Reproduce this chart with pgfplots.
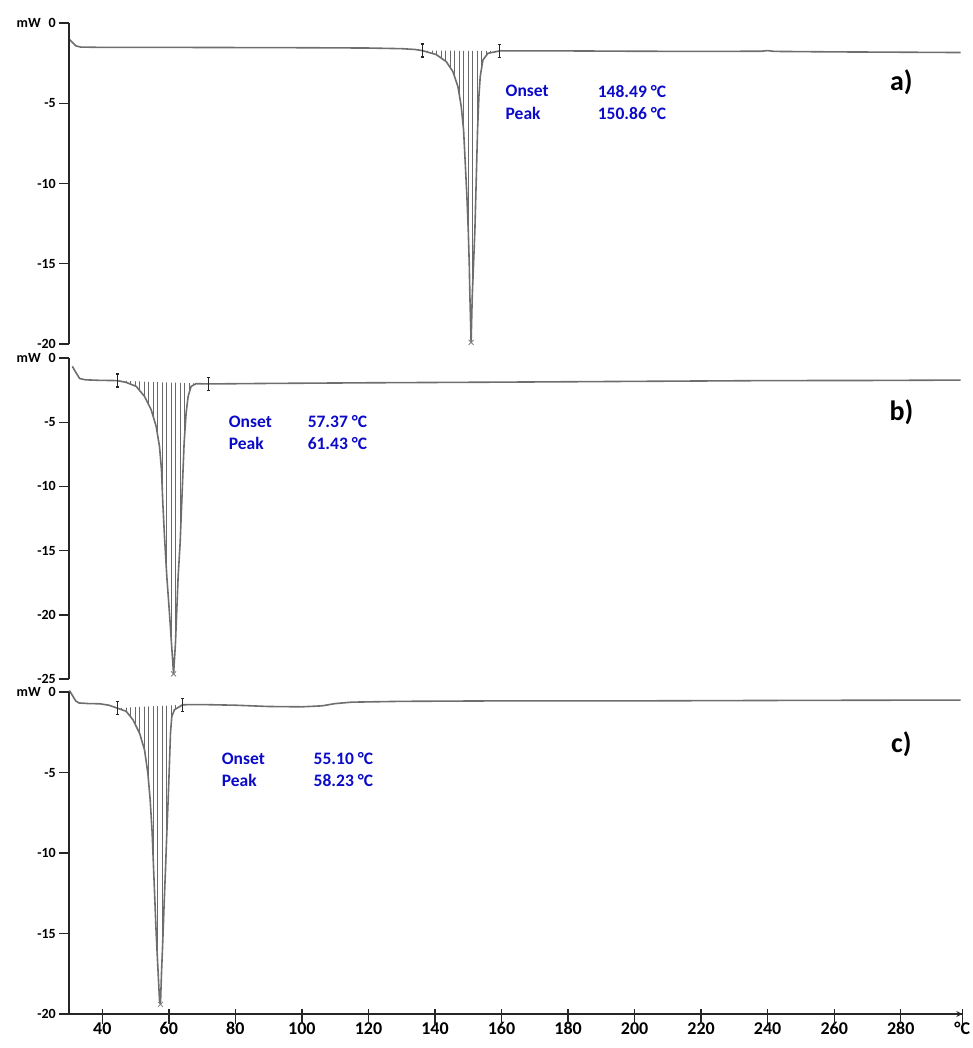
\documentclass[border=0pt]{standalone}
\usepackage{fontspec}
\setmainfont{Carlito}
\usepackage{pgfplots}
\pgfplotsset{compat=1.18}
\usepgfplotslibrary{fillbetween}
\usetikzlibrary{patterns.meta}
\definecolor{curve}{RGB}{110,110,110}
\definecolor{hatch}{RGB}{105,105,105}
\definecolor{annblue}{RGB}{10,10,200}
\pgfdeclareplotmark{ibeam}{%
 \pgfpathmoveto{\pgfqpoint{0pt}{-\pgfplotmarksize}}%
 \pgfpathlineto{\pgfqpoint{0pt}{\pgfplotmarksize}}%
 \pgfpathmoveto{\pgfqpoint{-1.6pt}{-\pgfplotmarksize}}%
 \pgfpathlineto{\pgfqpoint{1.6pt}{-\pgfplotmarksize}}%
 \pgfpathmoveto{\pgfqpoint{-1.6pt}{\pgfplotmarksize}}%
 \pgfpathlineto{\pgfqpoint{1.6pt}{\pgfplotmarksize}}%
 \pgfusepathqstroke}

% ---------- panel a ----------
\pgfplotstableread{
x y
30 -1.0
31 -1.2
32 -1.42
33.5 -1.5
40 -1.52
60 -1.52
80 -1.53
100 -1.54
120 -1.56
130 -1.6
134 -1.65
136.2 -1.72
}\aLeft
\pgfplotstableread{
x y
136.2 -1.72
140.4 -1.97
143.4 -2.41
145.4 -3.03
146.9 -3.97
147.9 -5.21
148.6 -6.67
149.1 -8.74
149.6 -10.82
150.0 -12.9
150.3 -14.97
150.5 -17.05
150.86 -19.9
151.2 -17.05
151.6 -14.97
152.0 -12.9
152.4 -9.78
152.8 -6.67
153.2 -4.59
153.6 -3.34
154.4 -2.31
155.9 -1.89
159.4 -1.74
}\aPeak
\pgfplotstableread{
x y
159.4 -1.74
180 -1.74
200 -1.76
220 -1.77
238 -1.76
240 -1.72
242 -1.77
260 -1.8
280 -1.82
298 -1.84
}\aRight

% ---------- panel b ----------
\pgfplotstableread{
x y
31 -0.65
32 -1.1
33.2 -1.6
35 -1.7
39.2 -1.74
44.5 -1.76
}\bLeft
\pgfplotstableread{
x y
44.5 -1.76
47.2 -1.90
50.2 -2.21
52.7 -2.99
54.7 -4.03
56.2 -5.33
57.2 -6.89
57.8 -8.71
58.2 -11.30
58.7 -13.9
59.4 -17.02
60.2 -19.88
60.8 -22.21
61.43 -24.6
62.0 -22.21
62.4 -19.62
62.8 -17.02
63.4 -14.42
63.8 -11.82
64.2 -9.23
64.6 -6.63
65.2 -4.29
65.8 -2.99
66.7 -2.21
68.2 -2.0
72.0 -2.02
}\bPeak
\pgfplotstableread{
x y
72 -2.02
90 -1.98
120 -1.93
160 -1.88
200 -1.82
240 -1.76
270 -1.75
298 -1.72
}\bRight

% ---------- panel c ----------
\pgfplotstableread{
x y
30.1 0.1
31 -0.2
32 -0.55
33 -0.68
36 -0.72
39.2 -0.73
42 -0.82
44.5 -1.0
}\cLeft
\pgfplotstableread{
x y
44.5 -1.0
47.2 -1.2
49.2 -1.72
51.2 -2.55
52.7 -3.59
53.7 -5.04
54.4 -6.70
55.0 -8.77
55.4 -10.84
55.8 -12.91
56.2 -14.98
56.7 -17.06
57.2 -19.13
57.5 -19.4
57.8 -17.47
58.2 -15.4
58.6 -13.12
59.0 -11.05
59.4 -8.77
59.8 -6.70
60.2 -4.41
60.5 -2.55
60.9 -1.52
61.7 -1.10
64.2 -0.79
}\cPeak
\pgfplotstableread{
x y
64.2 -0.79
70 -0.78
80 -0.82
90 -0.9
100 -0.92
106 -0.86
110 -0.72
115 -0.63
130 -0.58
160 -0.55
200 -0.55
250 -0.52
298 -0.5
}\cRight

\pgfplotsset{
 dsc/.style={
  scale only axis, width=893.3pt, height=321pt,
  xmin=30, xmax=298.5, clip=false,
  axis y line=left,
  axis line style={draw=black!85, line width=1.6pt, -},
  tick align=outside, major tick length=10pt,
  every major tick/.append style={draw=black!85, line width=1.4pt},
  yticklabel style={font=\bfseries\fontsize{14}{16}\selectfont, inner sep=1pt, xshift=-2pt},
  xticklabel style={font=\bfseries\fontsize{18}{20}\selectfont, inner sep=1pt, yshift=-2pt},
 },
}
\tikzset{
 crv/.style={color=curve, line width=1.6pt, line join=round},
 hatchfill/.style={draw=none, pattern={Lines[angle=90,distance=4.5pt,line width=1pt]}, pattern color=hatch},
 ann/.style={anchor=west, inner sep=0pt, font=\bfseries\fontsize{17.5}{20}\selectfont, text=annblue},
 plab/.style={font=\bfseries\fontsize{28}{30}\selectfont},
 axl/.style={color=black!85, line width=1.6pt, mark=none, line join=miter},
 ytk/.style={only marks, mark=-, mark size=5pt, mark options={solid, draw=black!85, line width=1.4pt, xshift=-5pt}},
 xtk/.style={only marks, mark=|, mark size=5pt, mark options={solid, draw=black!85, line width=1.4pt, yshift=-5pt}},
}

\begin{document}
\begin{tikzpicture}

% ===== a =====
\begin{axis}[dsc, at={(69pt,-344pt)}, anchor=south west,
  axis x line=none, ymin=-20, ymax=0,
  ytick={-20,-15,-10,-5,0}, yticklabels={-20,-15,-10,-5,{mW\hspace{8pt}0}}]
 \addplot[draw=none, forget plot, name path=pkA] table[x=x,y=y] {\aPeak};
 \addplot[draw=none, forget plot, name path=blA] coordinates {(136.2,-1.72) (159.4,-1.74)};
 \addplot[hatchfill] fill between[of=pkA and blA];
 \addplot[crv] table[x=x,y=y] {\aLeft};
 \addplot[crv] table[x=x,y=y] {\aPeak};
 \addplot[crv] table[x=x,y=y] {\aRight};
 \addplot[only marks, mark=ibeam, mark size=6.5pt, mark options={line width=1.3pt, draw=black!85}] coordinates {(136.2,-1.72) (159.4,-1.74)};
 \addplot[only marks, mark=x, mark size=3.5pt, mark options={line width=0.8pt, draw=gray}] coordinates {(150.86,-19.9)};
 \addplot[axl] coordinates {(30,0) (30,-20)};
 \addplot[ytk] coordinates {(30,0) (30,-5) (30,-10) (30,-15) (30,-20)};
 \node[ann] at (axis cs:161.2,-4.24) {Onset};
 \node[ann] at (axis cs:188.9,-4.24) {148.49 °C};
 \node[ann] at (axis cs:161.2,-5.61) {Peak};
 \node[ann] at (axis cs:188.9,-5.61) {150.86 °C};
 \node[plab] at (axis cs:280.2,-3.68) {a)};
\end{axis}

% ===== b =====
\begin{axis}[dsc, at={(69pt,-679pt)}, anchor=south west,
  axis x line=none, ymin=-25, ymax=0,
  ytick={-25,-20,-15,-10,-5,0}, yticklabels={-25,-20,-15,-10,-5,{mW\hspace{8pt}0}}]
 \addplot[draw=none, forget plot, name path=pkB] table[x=x,y=y] {\bPeak};
 \addplot[draw=none, forget plot, name path=blB] coordinates {(44.5,-1.76) (72.0,-2.02)};
 \addplot[hatchfill] fill between[of=pkB and blB];
 \addplot[crv] table[x=x,y=y] {\bLeft};
 \addplot[crv] table[x=x,y=y] {\bPeak};
 \addplot[crv] table[x=x,y=y] {\bRight};
 \addplot[only marks, mark=ibeam, mark size=6.5pt, mark options={line width=1.3pt, draw=black!85}] coordinates {(44.5,-1.76) (72.0,-2.02)};
 \addplot[only marks, mark=x, mark size=3.5pt, mark options={line width=0.8pt, draw=gray}] coordinates {(61.43,-24.6)};
 \addplot[axl] coordinates {(30,0) (30,-25)};
 \addplot[ytk] coordinates {(30,0) (30,-5) (30,-10) (30,-15) (30,-20) (30,-25)};
 \node[ann] at (axis cs:78.0,-4.96) {Onset};
 \node[ann] at (axis cs:101.7,-4.96) {57.37 °C};
 \node[ann] at (axis cs:78.0,-6.68) {Peak};
 \node[ann] at (axis cs:101.7,-6.68) {61.43 °C};
 \node[plab] at (axis cs:280.2,-4.26) {b)};
\end{axis}

% ===== c =====
\begin{axis}[dsc, at={(69pt,-1014pt)}, anchor=south west, height=322pt,
  axis x line=bottom, ymin=-20, ymax=0,
  ytick={-20,-15,-10,-5,0}, yticklabels={-20,-15,-10,-5,{mW\hspace{8pt}0}},
  xtick={40,60,...,280}, xticklabels={40,60,80,100,120,140,160,180,200,220,240,260,280},
  extra x ticks={298.5}, extra x tick labels={°C},
  extra x tick style={xticklabel style={font=\bfseries\fontsize{18}{20}\selectfont}}]
 \addplot[draw=none, forget plot, name path=pkC] table[x=x,y=y] {\cPeak};
 \addplot[draw=none, forget plot, name path=blC] coordinates {(44.5,-1.0) (64.2,-0.79)};
 \addplot[hatchfill] fill between[of=pkC and blC];
 \addplot[crv] table[x=x,y=y] {\cLeft};
 \addplot[crv] table[x=x,y=y] {\cPeak};
 \addplot[crv] table[x=x,y=y] {\cRight};
 \addplot[only marks, mark=ibeam, mark size=6.5pt, mark options={line width=1.3pt, draw=black!85}] coordinates {(44.5,-1.0) (64.2,-0.79)};
 \addplot[only marks, mark=x, mark size=3.5pt, mark options={line width=0.8pt, draw=gray}] coordinates {(57.5,-19.4)};
 \addplot[axl] coordinates {(30,0) (30,-20) (298.5,-20)};
 \addplot[ytk] coordinates {(30,0) (30,-5) (30,-10) (30,-15) (30,-20)};
 \addplot[xtk] coordinates {(40,-20) (60,-20) (80,-20) (100,-20) (120,-20) (140,-20) (160,-20) (180,-20) (200,-20) (220,-20) (240,-20) (260,-20) (280,-20) (298.5,-20)};
 \node[ann] at (axis cs:75.9,-4.15) {Onset};
 \node[ann] at (axis cs:103.5,-4.15) {55.10 °C};
 \node[ann] at (axis cs:75.9,-5.51) {Peak};
 \node[ann] at (axis cs:103.5,-5.51) {58.23 °C};
 \node[plab] at (axis cs:280.2,-3.27) {c)};
\end{axis}
\pgfresetboundingbox
\path[use as bounding box] (0pt,0pt) rectangle (973pt,-1048pt);
\end{tikzpicture}
\end{document}
